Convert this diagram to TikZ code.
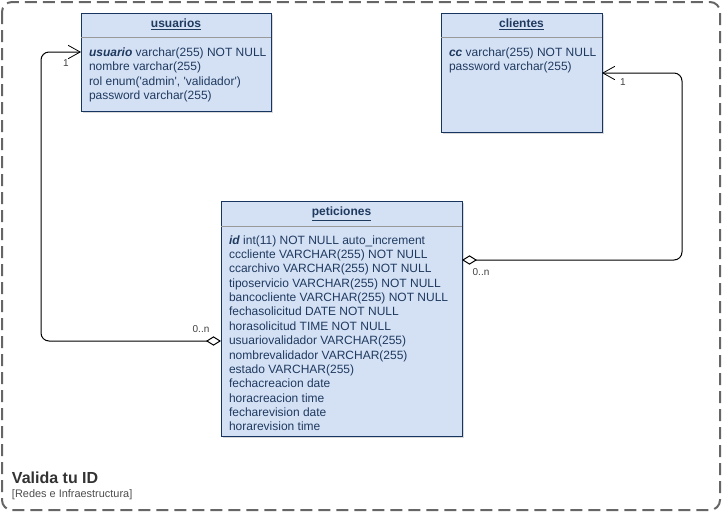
\documentclass[tikz,border=0pt]{standalone}
\usepackage{fontspec}
\setmainfont{Liberation Sans}
\usetikzlibrary{calc,arrows.meta,shadows}
\definecolor{tblfill}{HTML}{D4E1F5}
\definecolor{tblline}{HTML}{173561}
\definecolor{tbltext}{HTML}{1F3A5F}
\definecolor{framegray}{HTML}{666666}

\begin{document}
\begin{tikzpicture}[x=0.75pt,y=-0.75pt,
  every node/.style={font=\fontsize{9}{10.8}\selectfont, text=tbltext, inner sep=0pt, outer sep=0pt},
  table/.style={draw=tblline, fill=tblfill, line width=0.75pt, anchor=north west,
    drop shadow={shadow xshift=1.5pt, shadow yshift=-1.5pt, opacity=0.3}},
  sepline/.style={draw=black!40, line width=0.6pt},
  title/.style={anchor=base, font=\fontsize{9}{10.8}\selectfont\bfseries},
  attr/.style={anchor=base west},
  card/.style={font=\fontsize{7.5}{9}\selectfont, text=black!75},
  fk/.style={draw=black, line width=0.75pt, rounded corners=6pt,
    {Diamond[open,fill=white,length=11.25pt,width=7pt]}-{Straight Barb[length=9pt,width=10pt,line width=0.6pt]}}]
\useasboundingbox (0,0) rectangle (722,512);

% frame
\draw[framegray, line width=1.5pt, dash pattern=on 9pt off 4.5pt, rounded corners=7.5pt] (2,2) rectangle (720,510);

% usuarios
\node[table, minimum width=142.5pt, minimum height=73.5pt] (usr) at (81,13) {};
\draw[sepline] ($(usr.north west)+(0,24)$) -- ($(usr.north east)+(0,24)$);
\node[title] (usr-t) at ($(usr.north)+(0,14.5)$) {\underline{usuarios}};
\foreach \t [count=\i from 0] in {{\textbf{\textit{usuario}} varchar(255) NOT NULL},
  nombre varchar(255),
  {rol enum(\textquotesingle admin\textquotesingle, \textquotesingle validador\textquotesingle)},
  password varchar(255)}
  \node[attr] (usr-\i) at ($(usr.north west)+(8,43+14.5*\i)$) {\t};

% clientes
\node[table, minimum width=120.75pt, minimum height=89.25pt] (cli) at (441,13) {};
\draw[sepline] ($(cli.north west)+(0,24)$) -- ($(cli.north east)+(0,24)$);
\node[title] (cli-t) at ($(cli.north)+(0,14.5)$) {\underline{clientes}};
\foreach \t [count=\i from 0] in {{\textbf{\textit{cc}} varchar(255) NOT NULL},
  password varchar(255)}
  \node[attr] (cli-\i) at ($(cli.north west)+(8,43+14.5*\i)$) {\t};

% peticiones
\node[table, minimum width=180.75pt, minimum height=176.25pt] (pet) at (221,201) {};
\draw[sepline] ($(pet.north west)+(0,25)$) -- ($(pet.north east)+(0,25)$);
\node[title] (pet-t) at ($(pet.north)+(0,14.5)$) {\underline{peticiones}};
\foreach \t [count=\i from 0] in {{\textbf{\textit{id}} int(11) NOT NULL auto\_increment},
  cccliente VARCHAR(255) NOT NULL,
  ccarchivo VARCHAR(255) NOT NULL,
  tiposervicio VARCHAR(255) NOT NULL,
  bancocliente VARCHAR(255) NOT NULL,
  fechasolicitud DATE NOT NULL,
  horasolicitud TIME NOT NULL,
  usuariovalidador VARCHAR(255),
  nombrevalidador VARCHAR(255),
  estado VARCHAR(255),
  fechacreacion date,
  horacreacion time,
  fecharevision date,
  horarevision time}
  \node[attr] (pet-\i) at ($(pet.north west)+(8,43+14.38*\i)$) {\t};

% relations
\coordinate (pet-u) at ($(pet.north west)+(0,140)$);
\coordinate (usr-a) at ($(usr.north west)+(0,39)$);
\draw[fk] (pet-u) -| ($(usr-a)+(-40,0)$) -- (usr-a);
\node[card] (usr-m) at (66,63) {1};
\node[card] (pet-um) at (201,329) {0..n};

\coordinate (pet-c) at ($(pet.north east)+(0,59)$);
\coordinate (cli-a) at ($(cli.north east)+(0,60)$);
\draw[fk] (pet-c) -| ($(cli-a)+(80,0)$) -- (cli-a);
\node[card] (cli-m) at (623,82) {1};
\node[card] (pet-cm) at (481,272) {0..n};

% caption
\node[anchor=base west, font=\fontsize{12}{14}\selectfont\bfseries, text=black!80] (name) at (12,483) {Valida tu ID};
\node[anchor=base west, font=\fontsize{8.2}{9.8}\selectfont, text=black!70] (dept) at (12,497) {[Redes e Infraestructura]};
\end{tikzpicture}
\end{document}
